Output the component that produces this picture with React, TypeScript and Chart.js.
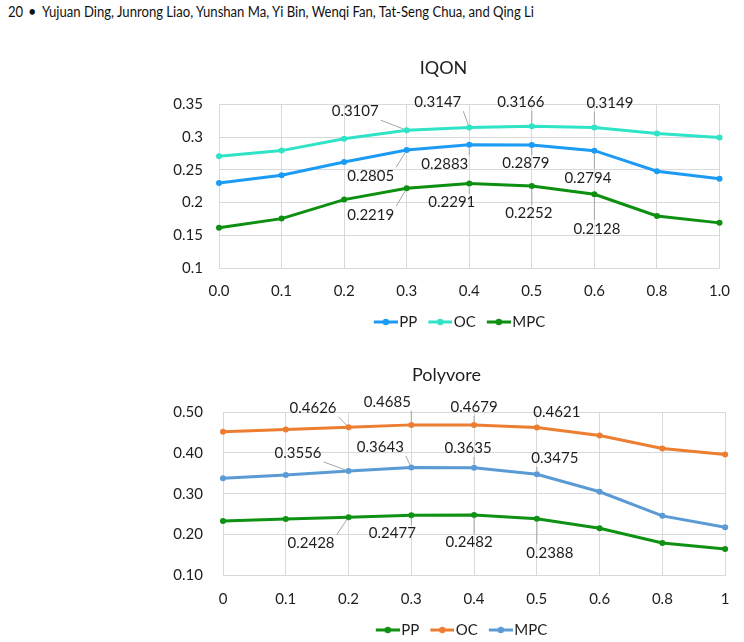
import React, { useEffect, useRef } from 'react';
import { Chart, registerables } from 'chart.js';

Chart.register(...registerables);

// ---------- data ----------
const IQON_CATEGORIES = ['0.0', '0.1', '0.2', '0.3', '0.4', '0.5', '0.6', '0.8', '1.0'];
const IQON_PP = [0.2298, 0.2418, 0.262, 0.2805, 0.2883, 0.2879, 0.2794, 0.248, 0.2365];
const IQON_OC = [0.271, 0.2795, 0.2975, 0.3107, 0.3147, 0.3166, 0.3149, 0.3055, 0.2995];
const IQON_MPC = [0.1615, 0.1755, 0.2046, 0.2219, 0.2291, 0.2252, 0.2128, 0.1795, 0.169];
const IQON_Y_TICKS = [0.1, 0.35, 0.05];

const POLY_CATEGORIES = ['0', '0.1', '0.2', '0.3', '0.4', '0.5', '0.6', '0.8', '1'];
const POLY_PP = [0.2336, 0.2385, 0.2428, 0.2477, 0.2482, 0.2388, 0.2156, 0.1796, 0.1648];
const POLY_OC = [0.4515, 0.4573, 0.4626, 0.4685, 0.4679, 0.4621, 0.4426, 0.4106, 0.396];
const POLY_MPC = [0.3377, 0.3459, 0.3556, 0.3643, 0.3635, 0.3475, 0.3048, 0.2459, 0.218];
const POLY_Y_TICKS = [0.1, 0.5, 0.1];

const SERIES_NAMES = ['PP', 'OC', 'MPC'];

// labelled points: dataset index, point index (texts come from the data)
const IQON_LABELLED = [
  [1, 3], [1, 4], [1, 5], [1, 6],
  [0, 3], [0, 4], [0, 5], [0, 6],
  [2, 3], [2, 4], [2, 5], [2, 6],
];
const POLY_LABELLED = [
  [1, 2], [1, 3], [1, 4], [1, 5],
  [2, 2], [2, 3], [2, 4], [2, 5],
  [0, 2], [0, 3], [0, 4], [0, 5],
];

// ---------- styling ----------
const FONT = "Lato, 'Open Sans', sans-serif";
const TEXT = '#1e1e1e';
const GRID = '#d9d9d9';
const IQON_COLORS = ['#1c9bf4', '#2ee3c6', '#0d8f10'];
const POLY_COLORS = ['#0f9113', '#ed7d31', '#5b9bd5'];

// label offsets (px, text centre relative to point)
const IQON_OFFSETS = [
  [-51.5, -18.6], [-31.5, -25], [-11, -24], [15.5, -24],
  [-36, 26], [-24.5, 19], [-6, 18.5], [-6.5, 27],
  [-36, 26.5], [-17.5, 19], [-3, 27.5], [2.5, 34.5],
];
const POLY_OFFSETS = [
  [-35.5, -19], [-24, -23], [0, -18], [20, -15.5],
  [-50.5, -17.7], [-31, -20], [-6, -19.5], [18, -16],
  [-37.5, 26.5], [-19, 18.5], [-5, 27.7], [13, 34],
];

const leaderLabels = {
  id: 'leaderLabels',
  afterLayout(chart: any, _args: any, opts: any) {
    const dx = opts.legendShift || 0;
    if (chart.legend && dx) {
      chart.legend.left += dx;
      chart.legend.right += dx;
    }
  },
  afterDatasetsDraw(chart: any, _args: any, opts: any) {
    const ctx = chart.ctx;
    const pts = opts.points || [];
    const offs = opts.offsets || [];
    ctx.save();
    ctx.font = `${opts.size}px ${FONT}`;
    ctx.textAlign = 'center';
    ctx.textBaseline = 'middle';
    pts.forEach((p: number[], k: number) => {
      const [ds, i] = p;
      const el = chart.getDatasetMeta(ds).data[i];
      if (!el) return;
      const v = chart.data.datasets[ds].data[i] as number;
      const text = v.toFixed(4);
      const cx = el.x + offs[k][0];
      const cy = el.y + offs[k][1];
      const w = ctx.measureText(text).width;
      const h = opts.size * 0.75;
      const left = cx - w / 2 - 2;
      const right = cx + w / 2 + 2;
      const top = cy - h / 2 - 3;
      const bottom = cy + h / 2 + 3;
      const ax = Math.min(Math.max(el.x, left), right);
      const ay = Math.min(Math.max(el.y, top), bottom);
      const d = Math.hypot(el.x - ax, el.y - ay);
      if (d > 7) {
        const ex = el.x - ((el.x - ax) / d) * 3;
        const ey = el.y - ((el.y - ay) / d) * 3;
        ctx.strokeStyle = '#a6a6a6';
        ctx.lineWidth = 1;
        ctx.beginPath();
        ctx.moveTo(ax, ay);
        ctx.lineTo(ex, ey);
        ctx.stroke();
      }
      ctx.fillStyle = TEXT;
      ctx.fillText(text, cx, cy);
    });
    ctx.restore();
  },
};

function legendIcon(color: string) {
  const c = document.createElement('canvas');
  c.width = 32;
  c.height = 10;
  const g = c.getContext('2d')!;
  g.strokeStyle = color;
  g.lineWidth = 3;
  g.beginPath();
  g.moveTo(8, 5);
  g.lineTo(32, 5);
  g.stroke();
  g.fillStyle = color;
  g.beginPath();
  g.arc(20, 5, 3.2, 0, Math.PI * 2);
  g.fill();
  return c;
}

interface Spec {
  title: string;
  categories: string[];
  series: number[][];
  colors: string[];
  yTicks: number[];
  yFmt: (v: number) => string;
  labelled: number[][];
  offsets: number[][];
  yWidth: number;
  yPad: number;
  xHeight: number;
  xPad: number;
  legendShift: number;
  titlePad: { top: number; bottom: number };
  layoutPad: { left: number; right: number; top: number; bottom: number };
}

function buildConfig(s: Spec): any {
  const icons = s.colors.map(legendIcon);
  return {
    type: 'line',
    data: {
      labels: s.categories,
      datasets: s.series.map((d, i) => ({
        label: SERIES_NAMES[i],
        data: d,
        borderColor: s.colors[i],
        backgroundColor: s.colors[i],
        pointBackgroundColor: s.colors[i],
        pointBorderColor: s.colors[i],
        borderWidth: 3,
        pointRadius: 3,
        pointBorderWidth: 0,
        tension: 0,
        fill: false,
      })),
    },
    options: {
      responsive: false,
      animation: false,
      devicePixelRatio: 1,
      layout: { padding: s.layoutPad },
      scales: {
        x: {
          type: 'category',
          offset: false,
          grid: { color: GRID, lineWidth: 1, drawTicks: false },
          border: { display: false },
          ticks: {
            padding: s.xPad,
            color: TEXT,
            font: { size: 15, family: FONT },
            maxRotation: 0,
            autoSkip: false,
          },
          afterFit: (sc: any) => {
            sc.height = s.xHeight;
          },
        },
        y: {
          min: s.yTicks[0],
          max: s.yTicks[1],
          grid: { color: GRID, lineWidth: 1, drawTicks: false },
          border: { display: false },
          ticks: {
            stepSize: s.yTicks[2],
            padding: s.yPad,
            color: TEXT,
            font: { size: 15, family: FONT },
            callback: (v: any) => s.yFmt(Number(v)),
          },
          afterFit: (sc: any) => {
            sc.width = s.yWidth;
          },
        },
      },
      plugins: {
        title: {
          display: true,
          text: s.title,
          color: TEXT,
          font: { size: 18, family: FONT, weight: 'normal' },
          padding: s.titlePad,
        },
        legend: {
          display: true,
          position: 'bottom',
          labels: {
            usePointStyle: true,
            pointStyleWidth: 20,
            padding: 9,
            color: TEXT,
            font: { size: 15, family: FONT },
            generateLabels: (chart: any) =>
              chart.data.datasets.map((ds: any, i: number) => ({
                text: ds.label,
                pointStyle: icons[i],
                datasetIndex: i,
                hidden: false,
                fillStyle: ds.borderColor,
                strokeStyle: ds.borderColor,
                lineWidth: 0,
                fontColor: TEXT,
              })),
          },
        },
        tooltip: { enabled: false },
        leaderLabels: { points: s.labelled, offsets: s.offsets, size: 15, legendShift: s.legendShift },
      },
    },
    plugins: [leaderLabels],
  };
}

function LineChart({ spec, left, top, width, height }: { spec: Spec; left: number; top: number; width: number; height: number }) {
  const ref = useRef<HTMLCanvasElement>(null);
  useEffect(() => {
    if (!ref.current) return;
    const chart = new Chart(ref.current, buildConfig(spec));
    return () => chart.destroy();
  }, []);
  return (
    <canvas
      ref={ref}
      width={width}
      height={height}
      style={{ position: 'absolute', left, top, width, height }}
    />
  );
}

const iqonSpec: Spec = {
  title: 'IQON',
  categories: IQON_CATEGORIES,
  series: [IQON_PP, IQON_OC, IQON_MPC],
  colors: IQON_COLORS,
  yTicks: IQON_Y_TICKS,
  yFmt: (v) => String(Math.round(v * 100) / 100),
  labelled: IQON_LABELLED,
  offsets: IQON_OFFSETS,
  yWidth: 59,
  yPad: 16,
  xHeight: 37.5,
  xPad: 14,
  legendShift: 15,
  titlePad: { top: 17.2, bottom: 25.7 },
  layoutPad: { left: 0, right: 17, top: 0, bottom: 5.5 },
};

const polySpec: Spec = {
  title: 'Polyvore',
  categories: POLY_CATEGORIES,
  series: [POLY_PP, POLY_OC, POLY_MPC],
  colors: POLY_COLORS,
  yTicks: POLY_Y_TICKS,
  yFmt: (v) => v.toFixed(2),
  labelled: POLY_LABELLED,
  offsets: POLY_OFFSETS,
  yWidth: 63,
  yPad: 20,
  xHeight: 38,
  xPad: 14.5,
  legendShift: 14,
  titlePad: { top: 14.2, bottom: 26.2 },
  layoutPad: { left: 0, right: 11, top: 0, bottom: 2.5 },
};

const HEADER_FONT = "Lato, sans-serif";

export default function App() {
  return (
    <div
      style={{
        position: 'fixed',
        left: 0,
        top: 0,
        width: 744,
        height: 642,
        overflow: 'hidden',
        background: '#ffffff',
      }}
    >
      <div style={{ position: 'absolute', left: 8, top: 3, fontFamily: HEADER_FONT, fontSize: 14.5, color: '#111', whiteSpace: 'nowrap', transform: 'scaleX(0.9)', transformOrigin: 'left center' }}>
        20
      </div>
      <div style={{ position: 'absolute', left: 28, top: 3, fontFamily: HEADER_FONT, fontSize: 14.5, color: '#111', whiteSpace: 'nowrap' }}>
        •
      </div>
      <div
        style={{
          position: 'absolute',
          left: 42,
          top: 3,
          fontFamily: HEADER_FONT,
          fontSize: 14.5,
          color: '#111',
          whiteSpace: 'nowrap',
          transform: 'scaleX(0.903)',
          transformOrigin: 'left center',
        }}
      >
        Yujuan Ding, Junrong Liao, Yunshan Ma, Yi Bin, Wenqi Fan, Tat-Seng Chua, and Qing Li
      </div>
      <LineChart spec={iqonSpec} left={160} top={40} width={584} height={305} />
      <LineChart spec={polySpec} left={160} top={350} width={584} height={300} />
    </div>
  );
}
